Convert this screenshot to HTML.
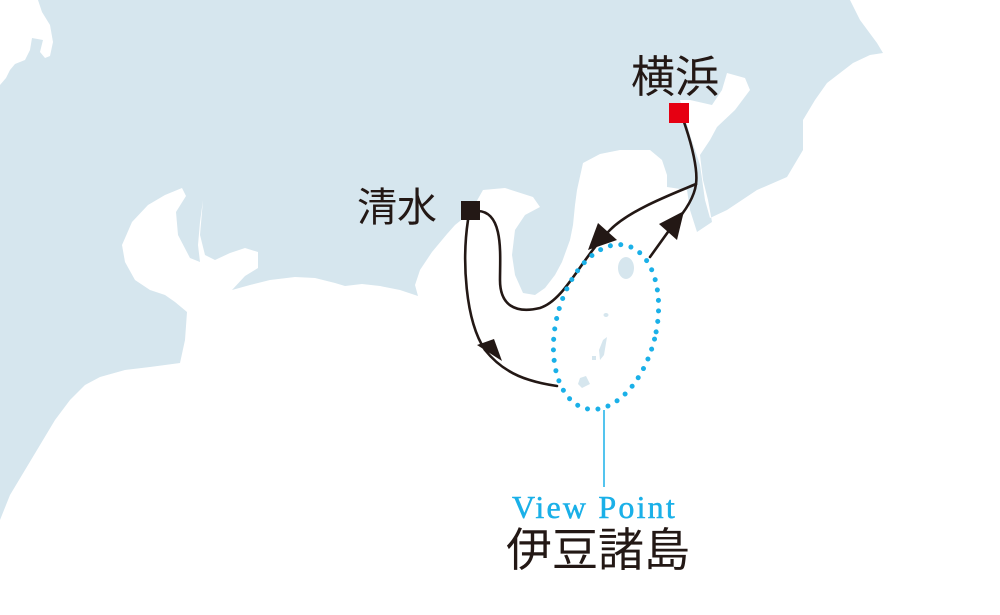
<!DOCTYPE html>
<html><head><meta charset="utf-8"><style>
html,body{margin:0;padding:0;background:#fff}
svg{display:block}
</style></head><body>
<svg width="1000" height="615" viewBox="0 0 1000 615" xmlns="http://www.w3.org/2000/svg">
<rect width="1000" height="615" fill="#d6e6ee"/>
<!-- top-left lake -->
<path fill="#fff" d="M0,0 L38,0 L42,12 L50,25 L53,42 L50,56 L45,58 L40,52 L43,40 L32,38 L30,50 L25,60 L15,64 L10,70 L6,78 L0,85 Z"/>
<!-- main sea -->
<path fill="#fff" d="M0,520 L10,495 L25,470 L40,445 L55,420 L70,400 L85,385 L100,377 L125,370 L150,367 L180,363 L185,340 L187,312 L175,302 L165,295 L150,290 L135,280 L125,262 L122,245 L132,222 L148,205 L165,195 L182,188 L186,196 L176,212 L178,235 L190,258 L200,262 L198,245 L200,222 L203,200 L200,235 L205,255 L215,260 L230,253 L245,248 L258,252 L258,268 L245,276 L232,290 L250,285 L270,280 L295,277 L315,278 L335,283 L345,286 L362,284 L380,286 L400,290 L418,296 L415,285 L420,270 L432,252 L447,234 L455,225 L470,213 L483,190 L505,188 L533,197 L540,207 L525,215 L515,230 L512,255 L515,275 L523,293 L535,295 L545,288 L555,275 L562,262 L570,240 L573,225 L575,205 L577,190 L583,163 L600,154 L620,150 L650,150 L662,160 L667,175 L667,187 L687,190 L690,210 L697,232 L712,222 L708,200 L703,180 L700,155 L710,140 L717,127 L735,110 L750,90 L745,78 L727,73 L722,90 L712,105 L690,100 L680,100 L690,135 L700,165 L705,200 L710,218 L727,210 L757,190 L787,177 L803,150 L803,120 L815,100 L827,83 L853,63 L870,55 L883,53 L877,43 L860,20 L850,0 L1000,0 L1000,615 L0,615 Z"/>
<!-- Izu islands -->
<ellipse cx="626" cy="268" rx="8" ry="11" fill="#d6e6ee"/>
<ellipse cx="606" cy="315" rx="2.5" ry="2" fill="#d6e6ee"/>
<path d="M603,340 L607,337 L604,355 L600,360 L599,350 Z" fill="#d6e6ee"/>
<rect x="592" y="356" width="4" height="4" fill="#d6e6ee"/>
<path d="M580,378 L586,376 L590,384 L582,388 L578,384 Z" fill="#d6e6ee"/>
<!-- routes -->
<g fill="none" stroke="#231815" stroke-width="2.6" stroke-linecap="round">
<path d="M684,122 C692,145 698,170 696,184 C670,195 630,210 610,230 C580,260 565,300 540,308 C515,314 500,305 500,280 C500,255 504,212 478,211"/>
<path d="M696,184 C694,200 682,215 673,225 L650,257"/>
<path d="M468,220 C462,260 465,320 485,350 C505,375 530,382 557,386"/>
</g>
<g fill="#231815">
<polygon points="588,250 617,240 598,223"/>
<polygon points="684,211 659,224 677,240"/>
<polygon points="477,345 502,361 494,339"/>
</g>
<rect x="461" y="201" width="19" height="19" fill="#231815"/>
<rect x="669" y="103" width="20" height="20" fill="#e60012"/>
<!-- dotted ellipse -->
<ellipse cx="606" cy="327" rx="50" ry="84" transform="rotate(14 606 327)" fill="none" stroke="#1ab0e8" stroke-width="5" stroke-linecap="round" stroke-dasharray="0 10.5"/>
<line x1="604" y1="410" x2="604" y2="487" stroke="#1ab0e8" stroke-width="1.5"/>
<text x="512" y="518" font-family="'Liberation Serif',serif" font-size="32" letter-spacing="2.2" fill="#1ab0e8" stroke="#1ab0e8" stroke-width="0.5">View Point</text>
<text x="506" y="566" font-family="'Liberation Sans','Noto Sans CJK JP',sans-serif" font-size="46" fill="#231815">伊豆諸島</text>
<text x="357" y="221" font-family="'Liberation Sans','Noto Sans CJK JP',sans-serif" font-size="40" fill="#231815">清水</text>
<text x="631" y="92" font-family="'Liberation Sans','Noto Sans CJK JP',sans-serif" font-size="44" fill="#231815">横浜</text>
</svg>
</body></html>
